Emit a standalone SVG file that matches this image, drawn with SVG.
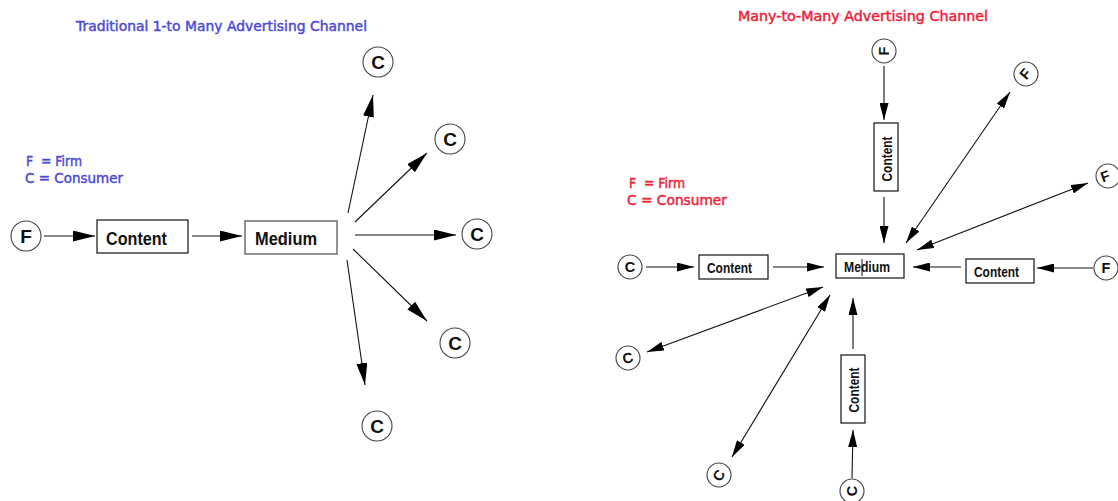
<svg xmlns="http://www.w3.org/2000/svg" width="1118" height="501" viewBox="0 0 1118 501">
<style>
.bg{fill:#fff}
.title{font-family:"DejaVu Sans","Liberation Sans",sans-serif;font-size:13.5px;stroke-width:0.45}
.pre{white-space:pre}
.blue{fill:#4b4bd6;stroke:#4b4bd6}
.red{fill:#ee2238;stroke:#ee2238}
.circ{fill:#fff;stroke:#444;stroke-width:1.1}
.box{fill:#fff;stroke:#111;stroke-width:1.2}
.boxg{fill:#fff;stroke:#777;stroke-width:1.6}
.lbl{font-family:"Liberation Sans",Arial,sans-serif;font-weight:bold;fill:#111}
.big{font-size:19px}
.sm{font-size:14.5px}
.ln{stroke:#111;stroke-width:1.1;fill:none}
</style>
<defs>
<marker id="hL" markerUnits="userSpaceOnUse" viewBox="0 0 22 11" refX="22" refY="5.5" markerWidth="22" markerHeight="11" orient="auto"><path d="M0,0L22,5.5L0,11z" fill="#000"/></marker>
<marker id="hS" markerUnits="userSpaceOnUse" viewBox="0 0 17 9" refX="17" refY="4.5" markerWidth="17" markerHeight="9" orient="auto-start-reverse"><path d="M0,0L17,4.5L0,9z" fill="#000"/></marker>
</defs>
<rect class="bg" x="0" y="0" width="1118" height="501"/>

<!-- Left diagram -->
<g id="left-title"><text class="title blue" x="76" y="31" textLength="291" lengthAdjust="spacingAndGlyphs">Traditional 1-to Many Advertising Channel</text></g>
<g id="left-legend">
<text class="title blue pre" x="26" y="166" textLength="56" lengthAdjust="spacingAndGlyphs">F  = Firm</text>
<text class="title blue" x="25" y="183" textLength="98" lengthAdjust="spacingAndGlyphs">C = Consumer</text>
</g>
<g id="L-F"><circle class="circ" cx="26" cy="236" r="15"/><text class="lbl big" x="26" y="243" text-anchor="middle">F</text></g>
<g id="L-content"><rect class="box" x="97" y="220" width="91" height="33"/><text class="lbl big" x="106" y="245" textLength="61" lengthAdjust="spacingAndGlyphs">Content</text></g>
<g id="L-medium"><rect class="boxg" x="245" y="221" width="92" height="33"/><text class="lbl big" x="255" y="245" textLength="62" lengthAdjust="spacingAndGlyphs">Medium</text></g>
<g id="L-C1"><circle class="circ" cx="378" cy="62" r="15"/><text class="lbl big" x="378" y="69" text-anchor="middle">C</text></g>
<g id="L-C2"><circle class="circ" cx="450" cy="139" r="15"/><text class="lbl big" x="450" y="146" text-anchor="middle">C</text></g>
<g id="L-C3"><circle class="circ" cx="477" cy="234" r="15"/><text class="lbl big" x="477" y="241" text-anchor="middle">C</text></g>
<g id="L-C4"><circle class="circ" cx="455" cy="343" r="15"/><text class="lbl big" x="455" y="350" text-anchor="middle">C</text></g>
<g id="L-C5"><circle class="circ" cx="377" cy="426" r="15"/><text class="lbl big" x="377" y="433" text-anchor="middle">C</text></g>

<!-- Right diagram -->
<g id="right-title"><text class="title red" x="738" y="21" textLength="250" lengthAdjust="spacingAndGlyphs">Many-to-Many Advertising Channel</text></g>
<g id="right-legend">
<text class="title red pre" x="629" y="188" textLength="56" lengthAdjust="spacingAndGlyphs">F  = Firm</text>
<text class="title red" x="627" y="205" textLength="100" lengthAdjust="spacingAndGlyphs">C = Consumer</text>
</g>
<g id="R-medium"><rect class="box" x="836" y="254" width="68" height="24"/><text class="lbl sm" x="844" y="272" textLength="46" lengthAdjust="spacingAndGlyphs">Medium</text><line x1="862" y1="259" x2="862" y2="276" stroke="#111" stroke-width="1"/></g>
<g id="R-content-left"><rect class="box" x="699" y="255" width="69" height="24"/><text class="lbl sm" x="707" y="273" textLength="45" lengthAdjust="spacingAndGlyphs">Content</text></g>
<g id="R-content-right"><rect class="box" x="966" y="259" width="68" height="24"/><text class="lbl sm" x="974" y="277" textLength="45" lengthAdjust="spacingAndGlyphs">Content</text></g>
<g id="R-content-top"><rect class="box" x="874" y="123" width="24" height="68"/><text class="lbl sm" transform="translate(892,159) rotate(-90)" text-anchor="middle" textLength="45" lengthAdjust="spacingAndGlyphs">Content</text></g>
<g id="R-content-bottom"><rect class="box" x="841" y="355" width="24" height="68"/><text class="lbl sm" transform="translate(859,390) rotate(-90)" text-anchor="middle" textLength="45" lengthAdjust="spacingAndGlyphs">Content</text></g>
<g id="R-F-top"><circle class="circ" cx="884" cy="51" r="12"/><text class="lbl sm" transform="translate(889,51) rotate(-90)" text-anchor="middle">F</text></g>
<g id="R-F-upright"><circle class="circ" cx="1026" cy="74" r="12"/><text class="lbl sm" transform="translate(1029,77) rotate(-50)" text-anchor="middle">F</text></g>
<g id="R-F-right"><circle class="circ" cx="1108" cy="176" r="12"/><text class="lbl sm" transform="translate(1107,181) rotate(-20)" text-anchor="middle">F</text></g>
<g id="R-F-mid"><circle class="circ" cx="1106" cy="268" r="12"/><text class="lbl sm" x="1106" y="273" text-anchor="middle">F</text></g>
<g id="R-C-left"><circle class="circ" cx="630" cy="267" r="12"/><text class="lbl sm" x="630" y="272" text-anchor="middle">C</text></g>
<g id="R-C-lowleft"><circle class="circ" cx="628" cy="358" r="12"/><text class="lbl sm" transform="translate(629,363) rotate(-15)" text-anchor="middle">C</text></g>
<g id="R-C-bottomleft"><circle class="circ" cx="719" cy="475" r="12"/><text class="lbl sm" transform="translate(723,478) rotate(-60)" text-anchor="middle">C</text></g>
<g id="R-C-bottom"><circle class="circ" cx="852" cy="491" r="12"/><text class="lbl sm" transform="translate(857,491) rotate(-90)" text-anchor="middle">C</text></g>

<g id="connectors">
<line class="ln" x1="44" y1="236" x2="95" y2="236" marker-end="url(#hL)"/>
<line class="ln" x1="192" y1="236" x2="242" y2="236" marker-end="url(#hL)"/>
<line class="ln" x1="348" y1="213" x2="373" y2="95" marker-end="url(#hL)"/>
<line class="ln" x1="355" y1="222" x2="427" y2="153" marker-end="url(#hL)"/>
<line class="ln" x1="355" y1="235" x2="456" y2="235" marker-end="url(#hL)"/>
<line class="ln" x1="353" y1="249" x2="427" y2="321" marker-end="url(#hL)"/>
<line class="ln" x1="347" y1="260" x2="365" y2="385" marker-end="url(#hL)"/>

<line class="ln" x1="884" y1="66" x2="884" y2="120" marker-end="url(#hS)"/>
<line class="ln" x1="884" y1="197" x2="884" y2="243" marker-end="url(#hS)"/>
<line class="ln" x1="906" y1="243" x2="1010" y2="92" marker-start="url(#hS)" marker-end="url(#hS)"/>
<line class="ln" x1="917" y1="250" x2="1088" y2="183" marker-start="url(#hS)" marker-end="url(#hS)"/>
<line class="ln" x1="961" y1="267" x2="913" y2="267" marker-end="url(#hS)"/>
<line class="ln" x1="1093" y1="268" x2="1037" y2="268" marker-end="url(#hS)"/>
<line class="ln" x1="646" y1="267" x2="694" y2="267" marker-end="url(#hS)"/>
<line class="ln" x1="773" y1="267" x2="824" y2="267" marker-end="url(#hS)"/>
<line class="ln" x1="823" y1="287" x2="647" y2="352" marker-start="url(#hS)" marker-end="url(#hS)"/>
<line class="ln" x1="830" y1="295" x2="732" y2="457" marker-start="url(#hS)" marker-end="url(#hS)"/>
<line class="ln" x1="853" y1="349" x2="853" y2="298" marker-end="url(#hS)"/>
<line class="ln" x1="852" y1="478" x2="853" y2="430" marker-end="url(#hS)"/>
</g>
</svg>
